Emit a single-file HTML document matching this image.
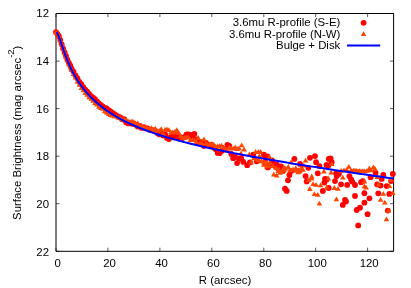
<!DOCTYPE html>
<html><head><meta charset="utf-8"><style>
html,body{margin:0;padding:0;background:#fff;}
svg{display:block;opacity:0.999;will-change:transform;}
text{font-family:"Liberation Sans",sans-serif;font-size:11.4px;fill:#000;}
</style></head><body>
<svg width="411" height="288" viewBox="0 0 411 288">
<rect width="411" height="288" fill="#fff"/>
<path d="M56.0,13.5 H393.6 V251.3 H56.0 Z" fill="none" stroke="#000" stroke-width="1"/><path d="M56.0,251.3 v-3.6 M56.0,13.5 v3.6 M107.9,251.3 v-3.6 M107.9,13.5 v3.6 M159.9,251.3 v-3.6 M159.9,13.5 v3.6 M211.8,251.3 v-3.6 M211.8,13.5 v3.6 M263.8,251.3 v-3.6 M263.8,13.5 v3.6 M315.7,251.3 v-3.6 M315.7,13.5 v3.6 M367.6,251.3 v-3.6 M367.6,13.5 v3.6 M56.0,13.5 h3.6 M393.6,13.5 h-3.6 M56.0,61.1 h3.6 M393.6,61.1 h-3.6 M56.0,108.6 h3.6 M393.6,108.6 h-3.6 M56.0,156.2 h3.6 M393.6,156.2 h-3.6 M56.0,203.7 h3.6 M393.6,203.7 h-3.6 M56.0,251.3 h3.6 M393.6,251.3 h-3.6" fill="none" stroke="#000" stroke-width="1" stroke-opacity="0.65"/>
<g fill="#ff0000"><circle cx="56.0" cy="32.1" r="2.9"/><circle cx="57.4" cy="33.8" r="2.9"/><circle cx="58.9" cy="36.2" r="2.9"/><circle cx="60.3" cy="40.1" r="2.9"/><circle cx="61.7" cy="44.3" r="2.9"/><circle cx="63.1" cy="48.6" r="2.9"/><circle cx="64.6" cy="52.4" r="2.9"/><circle cx="66.0" cy="55.9" r="2.9"/><circle cx="67.4" cy="59.7" r="2.9"/><circle cx="68.9" cy="62.8" r="2.9"/><circle cx="70.3" cy="65.6" r="2.9"/><circle cx="71.6" cy="68.6" r="2.9"/><circle cx="73.5" cy="71.6" r="2.9"/><circle cx="75.5" cy="75.3" r="2.9"/><circle cx="77.4" cy="78.3" r="2.9"/><circle cx="79.4" cy="81.9" r="2.9"/><circle cx="81.3" cy="84.2" r="2.9"/><circle cx="83.3" cy="87.2" r="2.9"/><circle cx="85.2" cy="89.6" r="2.9"/><circle cx="87.2" cy="91.7" r="2.9"/><circle cx="89.1" cy="94.0" r="2.9"/><circle cx="91.1" cy="96.2" r="2.9"/><circle cx="93.0" cy="97.6" r="2.9"/><circle cx="95.0" cy="99.1" r="2.9"/><circle cx="96.9" cy="101.5" r="2.9"/><circle cx="98.8" cy="103.5" r="2.9"/><circle cx="100.8" cy="104.8" r="2.9"/><circle cx="102.7" cy="106.4" r="2.9"/><circle cx="104.7" cy="107.8" r="2.9"/><circle cx="106.6" cy="108.3" r="2.9"/><circle cx="108.6" cy="110.2" r="2.9"/><circle cx="110.5" cy="111.4" r="2.9"/><circle cx="112.5" cy="112.9" r="2.9"/><circle cx="114.4" cy="114.2" r="2.9"/><circle cx="116.4" cy="115.3" r="2.9"/><circle cx="118.3" cy="116.7" r="2.9"/><circle cx="120.3" cy="117.4" r="2.9"/><circle cx="122.2" cy="119.3" r="2.9"/><circle cx="124.2" cy="119.2" r="2.9"/><circle cx="126.1" cy="122.2" r="2.9"/><circle cx="128.1" cy="123.4" r="2.9"/><circle cx="130.0" cy="122.9" r="2.9"/><circle cx="132.0" cy="123.7" r="2.9"/><circle cx="133.9" cy="123.7" r="2.9"/><circle cx="135.9" cy="124.8" r="2.9"/><circle cx="137.8" cy="126.6" r="2.9"/><circle cx="139.8" cy="125.8" r="2.9"/><circle cx="141.7" cy="127.9" r="2.9"/><circle cx="143.6" cy="127.1" r="2.9"/><circle cx="145.6" cy="128.3" r="2.9"/><circle cx="147.5" cy="128.4" r="2.9"/><circle cx="149.5" cy="129.8" r="2.9"/><circle cx="151.4" cy="130.0" r="2.9"/><circle cx="153.4" cy="130.4" r="2.9"/><circle cx="155.3" cy="131.2" r="2.9"/><circle cx="157.3" cy="133.0" r="2.9"/><circle cx="159.2" cy="134.3" r="2.9"/><circle cx="161.2" cy="132.8" r="2.9"/><circle cx="163.1" cy="135.4" r="2.9"/><circle cx="165.1" cy="134.3" r="2.9"/><circle cx="167.0" cy="137.9" r="2.9"/><circle cx="169.0" cy="139.0" r="2.9"/><circle cx="170.9" cy="136.8" r="2.9"/><circle cx="172.9" cy="136.6" r="2.9"/><circle cx="174.8" cy="136.1" r="2.9"/><circle cx="176.8" cy="134.1" r="2.9"/><circle cx="178.7" cy="137.5" r="2.9"/><circle cx="180.7" cy="137.3" r="2.9"/><circle cx="182.6" cy="138.1" r="2.9"/><circle cx="184.5" cy="137.2" r="2.9"/><circle cx="186.5" cy="134.5" r="2.9"/><circle cx="188.4" cy="134.5" r="2.9"/><circle cx="190.4" cy="134.9" r="2.9"/><circle cx="192.3" cy="136.5" r="2.9"/><circle cx="194.3" cy="134.0" r="2.9"/><circle cx="196.2" cy="139.3" r="2.9"/><circle cx="198.2" cy="141.9" r="2.9"/><circle cx="200.1" cy="141.8" r="2.9"/><circle cx="202.1" cy="144.0" r="2.9"/><circle cx="204.0" cy="146.1" r="2.9"/><circle cx="206.0" cy="143.0" r="2.9"/><circle cx="207.9" cy="145.0" r="2.9"/><circle cx="209.9" cy="146.1" r="2.9"/><circle cx="211.8" cy="144.8" r="2.9"/><circle cx="213.8" cy="147.4" r="2.9"/><circle cx="215.7" cy="149.2" r="2.9"/><circle cx="217.7" cy="152.9" r="2.9"/><circle cx="219.6" cy="153.2" r="2.9"/><circle cx="221.6" cy="150.9" r="2.9"/><circle cx="223.5" cy="149.4" r="2.9"/><circle cx="225.4" cy="149.0" r="2.9"/><circle cx="227.4" cy="144.8" r="2.9"/><circle cx="229.3" cy="145.9" r="2.9"/><circle cx="231.3" cy="153.9" r="2.9"/><circle cx="233.2" cy="158.2" r="2.9"/><circle cx="235.2" cy="156.8" r="2.9"/><circle cx="237.1" cy="163.1" r="2.9"/><circle cx="239.1" cy="158.6" r="2.9"/><circle cx="241.0" cy="158.1" r="2.9"/><circle cx="273.0" cy="163.5" r="2.9"/><circle cx="275.0" cy="166.0" r="2.9"/><circle cx="278.0" cy="168.5" r="2.9"/><circle cx="272.0" cy="160.5" r="2.9"/><circle cx="241.1" cy="158.6" r="2.9"/><circle cx="243.3" cy="161.9" r="2.9"/><circle cx="247.2" cy="165.2" r="2.9"/><circle cx="253.3" cy="154.7" r="2.9"/><circle cx="256.7" cy="161.3" r="2.9"/><circle cx="263.9" cy="154.7" r="2.9"/><circle cx="265.6" cy="158.0" r="2.9"/><circle cx="271.7" cy="163.0" r="2.9"/><circle cx="276.7" cy="164.7" r="2.9"/><circle cx="281.1" cy="166.3" r="2.9"/><circle cx="267.8" cy="167.4" r="2.9"/><circle cx="294.4" cy="158.9" r="2.9"/><circle cx="310.0" cy="157.8" r="2.9"/><circle cx="315.0" cy="156.1" r="2.9"/><circle cx="316.1" cy="162.2" r="2.9"/><circle cx="319.4" cy="166.1" r="2.9"/><circle cx="308.3" cy="167.8" r="2.9"/><circle cx="317.8" cy="173.3" r="2.9"/><circle cx="305.6" cy="176.1" r="2.9"/><circle cx="289.4" cy="175.0" r="2.9"/><circle cx="291.1" cy="171.1" r="2.9"/><circle cx="283.3" cy="170.6" r="2.9"/><circle cx="300.0" cy="163.9" r="2.9"/><circle cx="330.6" cy="158.3" r="2.9"/><circle cx="331.7" cy="162.2" r="2.9"/><circle cx="328.3" cy="165.6" r="2.9"/><circle cx="336.1" cy="173.3" r="2.9"/><circle cx="338.9" cy="173.9" r="2.9"/><circle cx="349.4" cy="176.1" r="2.9"/><circle cx="351.1" cy="179.4" r="2.9"/><circle cx="335.0" cy="181.1" r="2.9"/><circle cx="326.7" cy="179.4" r="2.9"/><circle cx="362.8" cy="181.1" r="2.9"/><circle cx="375.6" cy="172.8" r="2.9"/><circle cx="383.3" cy="175.0" r="2.9"/><circle cx="392.8" cy="173.9" r="2.9"/><circle cx="370.6" cy="177.2" r="2.9"/><circle cx="381.7" cy="178.9" r="2.9"/><circle cx="377.2" cy="184.4" r="2.9"/><circle cx="386.7" cy="186.1" r="2.9"/><circle cx="391.1" cy="181.1" r="2.9"/><circle cx="355.0" cy="185.0" r="2.9"/><circle cx="288.0" cy="180.3" r="2.9"/><circle cx="285.0" cy="188.7" r="2.9"/><circle cx="286.7" cy="190.9" r="2.9"/><circle cx="306.7" cy="181.4" r="2.9"/><circle cx="322.8" cy="190.9" r="2.9"/><circle cx="324.4" cy="182.6" r="2.9"/><circle cx="341.1" cy="184.3" r="2.9"/><circle cx="347.2" cy="184.9" r="2.9"/><circle cx="336.7" cy="176.0" r="2.9"/><circle cx="352.2" cy="181.6" r="2.9"/><circle cx="355.0" cy="196.0" r="2.9"/><circle cx="345.0" cy="199.9" r="2.9"/><circle cx="342.8" cy="204.9" r="2.9"/><circle cx="364.4" cy="193.2" r="2.9"/><circle cx="364.4" cy="202.7" r="2.9"/><circle cx="360.0" cy="207.7" r="2.9"/><circle cx="325.0" cy="178.8" r="2.9"/><circle cx="361.1" cy="182.2" r="2.9"/><circle cx="369.4" cy="198.3" r="2.9"/><circle cx="356.7" cy="210.0" r="2.9"/><circle cx="380.6" cy="185.6" r="2.9"/><circle cx="378.3" cy="193.3" r="2.9"/><circle cx="389.4" cy="193.9" r="2.9"/><circle cx="387.8" cy="210.6" r="2.9"/><circle cx="346.0" cy="201.5" r="2.9"/><circle cx="367.6" cy="214.2" r="2.9"/><circle cx="358.2" cy="225.4" r="2.9"/><circle cx="269.4" cy="165.8" r="2.9"/><circle cx="249.9" cy="162.4" r="2.9"/><circle cx="267.4" cy="156.3" r="2.9"/><circle cx="326.5" cy="165.0" r="2.9"/><circle cx="328.7" cy="158.9" r="2.9"/><circle cx="328.7" cy="188.0" r="2.9"/></g><path fill="#ff4500" d="M56.0,29.4 L58.8,34.2 L53.2,34.2Z M57.4,30.4 L60.2,35.2 L54.6,35.2Z M58.9,33.3 L61.6,38.1 L56.1,38.1Z M60.3,37.4 L63.1,42.2 L57.5,42.2Z M61.7,41.0 L64.5,45.8 L58.9,45.8Z M63.1,45.9 L65.9,50.7 L60.4,50.7Z M64.6,50.1 L67.4,54.9 L61.8,54.9Z M66.0,54.2 L68.8,59.0 L63.2,59.0Z M67.4,57.7 L70.2,62.5 L64.6,62.5Z M68.9,61.4 L71.6,66.2 L66.1,66.2Z M70.3,63.9 L73.1,68.7 L67.5,68.7Z M71.6,67.1 L74.4,71.9 L68.8,71.9Z M73.5,71.2 L76.3,76.0 L70.7,76.0Z M75.5,74.8 L78.3,79.6 L72.7,79.6Z M77.4,78.8 L80.2,83.6 L74.6,83.6Z M79.4,82.0 L82.2,86.8 L76.6,86.8Z M81.3,85.1 L84.1,89.9 L78.5,89.9Z M83.3,87.4 L86.1,92.2 L80.5,92.2Z M85.2,90.3 L88.0,95.1 L82.4,95.1Z M87.2,91.9 L90.0,96.7 L84.4,96.7Z M89.1,94.5 L91.9,99.3 L86.3,99.3Z M91.1,95.9 L93.8,100.7 L88.3,100.7Z M93.0,98.0 L95.8,102.8 L90.2,102.8Z M95.0,100.2 L97.7,105.0 L92.2,105.0Z M96.9,101.6 L99.7,106.4 L94.1,106.4Z M98.8,103.9 L101.6,108.7 L96.1,108.7Z M100.8,105.3 L103.6,110.1 L98.0,110.1Z M102.7,106.0 L105.5,110.8 L100.0,110.8Z M104.7,108.3 L107.5,113.2 L101.9,113.2Z M106.6,109.6 L109.4,114.4 L103.9,114.4Z M108.6,111.2 L111.4,116.0 L105.8,116.0Z M110.5,112.1 L113.3,116.9 L107.7,116.9Z M112.5,112.7 L115.3,117.5 L109.7,117.5Z M114.4,113.5 L117.2,118.3 L111.6,118.3Z M116.4,113.7 L119.2,118.5 L113.6,118.5Z M118.3,114.6 L121.1,119.4 L115.5,119.4Z M120.3,115.0 L123.1,119.8 L117.5,119.8Z M122.2,116.5 L125.0,121.3 L119.4,121.3Z M124.2,116.7 L127.0,121.5 L121.4,121.5Z M126.1,116.9 L128.9,121.7 L123.3,121.7Z M128.1,118.4 L130.9,123.2 L125.3,123.2Z M130.0,118.9 L132.8,123.7 L127.2,123.7Z M132.0,118.4 L134.8,123.2 L129.2,123.2Z M133.9,119.3 L136.7,124.1 L131.1,124.1Z M135.9,122.0 L138.6,126.8 L133.1,126.8Z M137.8,120.5 L140.6,125.3 L135.0,125.3Z M139.8,123.1 L142.5,127.9 L137.0,127.9Z M141.7,123.6 L144.5,128.4 L138.9,128.4Z M143.6,124.2 L146.4,129.0 L140.9,129.0Z M145.6,124.5 L148.4,129.3 L142.8,129.3Z M147.5,125.7 L150.3,130.5 L144.8,130.5Z M149.5,125.9 L152.3,130.7 L146.7,130.7Z M151.4,125.2 L154.2,130.0 L148.6,130.0Z M153.4,128.1 L156.2,132.9 L150.6,132.9Z M155.3,125.7 L158.1,130.5 L152.5,130.5Z M157.3,128.2 L160.1,133.0 L154.5,133.0Z M159.2,128.0 L162.0,132.8 L156.4,132.8Z M161.2,126.2 L164.0,131.1 L158.4,131.1Z M163.1,131.0 L165.9,135.8 L160.3,135.8Z M165.1,126.9 L167.9,131.7 L162.3,131.7Z M167.0,126.5 L169.8,131.3 L164.2,131.3Z M169.0,127.2 L171.8,132.0 L166.2,132.0Z M170.9,129.5 L173.7,134.3 L168.1,134.3Z M172.9,129.6 L175.7,134.4 L170.1,134.4Z M174.8,129.1 L177.6,133.9 L172.0,133.9Z M176.8,127.2 L179.5,132.0 L174.0,132.0Z M178.7,130.0 L181.5,134.8 L175.9,134.8Z M180.7,133.3 L183.4,138.1 L177.9,138.1Z M182.6,135.2 L185.4,140.0 L179.8,140.0Z M184.5,135.0 L187.3,139.8 L181.8,139.8Z M186.5,134.6 L189.3,139.4 L183.7,139.4Z M188.4,134.6 L191.2,139.4 L185.7,139.4Z M190.4,137.2 L193.2,142.0 L187.6,142.0Z M192.3,137.2 L195.1,142.0 L189.5,142.0Z M194.3,137.2 L197.1,142.0 L191.5,142.0Z M196.2,139.0 L199.0,143.8 L193.4,143.8Z M198.2,135.0 L201.0,139.9 L195.4,139.9Z M200.1,140.1 L202.9,144.9 L197.3,144.9Z M202.1,141.0 L204.9,145.8 L199.3,145.8Z M204.0,136.5 L206.8,141.3 L201.2,141.3Z M206.0,140.5 L208.8,145.3 L203.2,145.3Z M207.9,141.9 L210.7,146.7 L205.1,146.7Z M209.9,141.5 L212.7,146.3 L207.1,146.3Z M211.8,141.1 L214.6,145.9 L209.0,145.9Z M213.8,142.2 L216.6,147.0 L211.0,147.0Z M215.7,143.8 L218.5,148.6 L212.9,148.6Z M217.7,143.4 L220.4,148.2 L214.9,148.2Z M219.6,143.2 L222.4,148.0 L216.8,148.0Z M221.6,142.8 L224.3,147.6 L218.8,147.6Z M223.5,144.5 L226.3,149.3 L220.7,149.3Z M225.4,145.8 L228.2,150.6 L222.7,150.6Z M227.4,147.6 L230.2,152.4 L224.6,152.4Z M229.3,144.4 L232.1,149.2 L226.6,149.2Z M231.3,145.8 L234.1,150.6 L228.5,150.6Z M233.2,145.8 L236.0,150.6 L230.5,150.6Z M235.2,144.4 L238.0,149.2 L232.4,149.2Z M237.1,146.2 L239.9,151.0 L234.3,151.0Z M239.1,145.5 L241.9,150.3 L236.3,150.3Z M241.0,150.7 L243.8,155.5 L238.2,155.5Z M254.0,155.4 L256.8,160.2 L251.2,160.2Z M256.5,156.9 L259.3,161.7 L253.7,161.7Z M259.0,157.4 L261.8,162.2 L256.2,162.2Z M261.5,158.4 L264.3,163.2 L258.7,163.2Z M264.0,157.9 L266.8,162.7 L261.2,162.7Z M267.0,159.4 L269.8,164.2 L264.2,164.2Z M270.0,159.9 L272.8,164.7 L267.2,164.7Z M273.0,162.9 L275.8,167.7 L270.2,167.7Z M276.0,164.9 L278.8,169.7 L273.2,169.7Z M279.0,166.4 L281.8,171.2 L276.2,171.2Z M284.0,166.9 L286.8,171.7 L281.2,171.7Z M290.0,167.4 L292.8,172.2 L287.2,172.2Z M293.0,166.4 L295.8,171.2 L290.2,171.2Z M296.0,167.9 L298.8,172.7 L293.2,172.7Z M300.0,168.4 L302.8,173.2 L297.2,173.2Z M303.0,166.9 L305.8,171.7 L300.2,171.7Z M351.0,167.4 L353.8,172.2 L348.2,172.2Z M354.5,167.9 L357.3,172.7 L351.7,172.7Z M358.0,168.4 L360.8,173.2 L355.2,173.2Z M361.0,168.4 L363.8,173.2 L358.2,173.2Z M364.5,168.4 L367.3,173.2 L361.7,173.2Z M367.0,167.9 L369.8,172.7 L364.2,172.7Z M371.0,167.4 L373.8,172.2 L368.2,172.2Z M344.0,167.4 L346.8,172.2 L341.2,172.2Z M241.7,142.5 L244.5,147.3 L238.9,147.3Z M244.1,146.6 L246.9,151.4 L241.3,151.4Z M255.6,149.1 L258.4,153.9 L252.8,153.9Z M258.3,149.1 L261.1,153.9 L255.5,153.9Z M260.6,149.1 L263.4,153.9 L257.8,153.9Z M249.4,151.6 L252.2,156.4 L246.6,156.4Z M269.4,154.1 L272.2,158.9 L266.6,158.9Z M251.1,159.6 L253.9,164.4 L248.3,164.4Z M259.4,153.2 L262.2,158.0 L256.6,158.0Z M263.9,161.9 L266.7,166.7 L261.1,166.7Z M266.7,163.8 L269.5,168.6 L263.9,168.6Z M269.4,162.9 L272.2,167.7 L266.6,167.7Z M283.9,164.6 L286.7,169.4 L281.1,169.4Z M305.6,157.8 L308.4,162.6 L302.8,162.6Z M291.1,159.5 L293.9,164.3 L288.3,164.3Z M285.6,165.8 L288.4,170.6 L282.8,170.6Z M288.3,164.1 L291.1,168.9 L285.5,168.9Z M282.2,169.1 L285.0,173.9 L279.4,173.9Z M298.3,167.2 L301.1,172.0 L295.5,172.0Z M301.1,165.0 L303.9,169.8 L298.3,169.8Z M303.9,162.8 L306.7,167.6 L301.1,167.6Z M323.9,168.6 L326.7,173.4 L321.1,173.4Z M311.7,173.6 L314.5,178.4 L308.9,178.4Z M331.9,161.3 L334.7,166.1 L329.1,166.1Z M348.9,163.9 L351.7,168.7 L346.1,168.7Z M353.3,167.8 L356.1,172.6 L350.5,172.6Z M356.1,167.8 L358.9,172.6 L353.3,172.6Z M359.4,168.3 L362.2,173.1 L356.6,173.1Z M362.8,168.3 L365.6,173.1 L360.0,173.1Z M346.7,166.7 L349.5,171.5 L343.9,171.5Z M331.1,169.7 L333.9,174.5 L328.3,174.5Z M342.8,174.7 L345.6,179.5 L340.0,179.5Z M328.3,175.6 L331.1,180.4 L325.5,180.4Z M341.1,168.0 L343.9,172.8 L338.3,172.8Z M369.4,165.6 L372.2,170.4 L366.6,170.4Z M373.3,164.5 L376.1,169.3 L370.5,169.3Z M375.0,166.1 L377.8,170.9 L372.2,170.9Z M368.3,167.5 L371.1,172.3 L365.5,172.3Z M364.4,178.6 L367.2,183.4 L361.6,183.4Z M378.3,181.7 L381.1,186.5 L375.5,186.5Z M377.2,174.1 L380.0,178.9 L374.4,178.9Z M390.6,176.9 L393.4,181.7 L387.8,181.7Z M366.1,184.7 L368.9,189.5 L363.3,189.5Z M389.4,183.3 L392.2,188.1 L386.6,188.1Z M298.3,169.5 L301.1,174.3 L295.5,174.3Z M311.7,175.8 L314.5,180.6 L308.9,180.6Z M308.7,177.2 L311.5,182.0 L305.9,182.0Z M313.1,181.3 L315.9,186.1 L310.3,186.1Z M316.1,181.9 L318.9,186.7 L313.3,186.7Z M320.6,182.5 L323.4,187.3 L317.8,187.3Z M309.8,186.1 L312.6,190.9 L307.0,190.9Z M314.4,191.3 L317.2,196.1 L311.6,196.1Z M317.8,191.9 L320.6,196.7 L315.0,196.7Z M319.4,200.8 L322.2,205.6 L316.6,205.6Z M280.0,169.9 L282.8,174.7 L277.2,174.7Z M326.7,184.6 L329.5,189.4 L323.9,189.4Z M334.4,185.1 L337.2,189.9 L331.6,189.9Z M338.0,185.9 L340.8,190.7 L335.2,190.7Z M336.4,196.5 L339.2,201.3 L333.6,201.3Z M364.4,183.5 L367.2,188.3 L361.6,188.3Z M383.3,191.0 L386.1,195.8 L380.5,195.8Z M380.6,196.9 L383.4,201.7 L377.8,201.7Z M384.8,199.7 L387.6,204.5 L382.0,204.5Z M392.8,190.2 L395.6,195.0 L390.0,195.0Z M388.3,208.0 L391.1,212.8 L385.5,212.8Z M386.5,216.4 L389.3,221.2 L383.7,221.2Z M263.9,159.9 L266.7,164.7 L261.1,164.7Z M273.9,171.6 L276.7,176.4 L271.1,176.4Z M276.7,172.7 L279.5,177.5 L273.9,177.5Z M278.3,168.2 L281.1,173.0 L275.5,173.0Z M295.8,165.2 L298.6,170.0 L293.0,170.0Z"/><path d="M56.39,32.33 L56.71,32.63 L57.04,33.01 L57.36,33.47 L57.68,34.01 L58.01,34.62 L58.33,35.29 L58.66,36.03 L58.98,36.81 L59.30,37.64 L59.63,38.50 L59.95,39.40 L60.28,40.32 L60.60,41.25 L60.92,42.20 L61.25,43.16 L61.57,44.13 L61.89,45.09 L62.22,46.06 L62.54,47.03 L62.87,47.98 L63.19,48.94 L63.51,49.88 L63.84,50.82 L64.16,51.74 L64.48,52.66 L64.81,53.56 L65.13,54.45 L65.46,55.33 L65.78,56.20 L66.10,57.05 L66.43,57.90 L66.75,58.73 L67.07,59.54 L67.40,60.35 L67.72,61.14 L68.05,61.92 L68.37,62.69 L68.69,63.45 L69.02,64.19 L69.34,64.93 L69.67,65.65 L69.99,66.36 L70.31,67.06 L70.64,67.76 L70.96,68.44 L71.28,69.11 L71.61,69.77 L71.93,70.42 L72.26,71.06 L72.58,71.69 L72.90,72.32 L73.23,72.93 L73.55,73.54 L73.87,74.13 L74.20,74.72 L74.52,75.30 L74.85,75.88 L75.17,76.44 L75.49,77.00 L75.82,77.55 L76.14,78.10 L76.46,78.63 L76.79,79.16 L77.11,79.69 L77.44,80.20 L77.76,80.71 L78.08,81.21 L78.41,81.71 L78.73,82.20 L79.06,82.69 L79.38,83.17 L79.70,83.64 L80.03,84.11 L80.35,84.57 L80.67,85.03 L81.00,85.48 L81.32,85.93 L81.65,86.37 L81.97,86.81 L83.54,88.86 L85.10,90.80 L86.67,92.65 L88.23,94.41 L89.80,96.10 L91.37,97.70 L92.93,99.25 L94.50,100.72 L96.06,102.14 L97.63,103.51 L99.20,104.82 L100.76,106.09 L102.33,107.31 L103.89,108.49 L105.46,109.62 L107.02,110.73 L108.59,111.79 L110.16,112.83 L111.72,113.83 L113.29,114.80 L114.85,115.74 L116.42,116.66 L117.99,117.55 L119.55,118.42 L121.12,119.26 L122.68,120.09 L124.25,120.89 L125.82,121.67 L127.38,122.43 L128.95,123.18 L130.51,123.91 L132.08,124.62 L133.65,125.31 L135.21,125.99 L136.78,126.66 L138.34,127.31 L139.91,127.95 L141.48,128.57 L143.04,129.18 L144.61,129.79 L146.17,130.37 L147.74,130.95 L149.31,131.52 L150.87,132.08 L152.44,132.63 L154.00,133.16 L155.57,133.69 L157.14,134.21 L158.70,134.73 L160.27,135.23 L161.83,135.73 L163.40,136.22 L164.97,136.70 L166.53,137.17 L168.10,137.64 L169.66,138.10 L171.23,138.55 L172.80,139.00 L174.36,139.44 L175.93,139.88 L177.49,140.31 L179.06,140.73 L180.63,141.15 L182.19,141.57 L183.76,141.98 L185.32,142.38 L186.89,142.78 L188.46,143.18 L190.02,143.57 L191.59,143.95 L193.15,144.34 L194.72,144.72 L196.29,145.09 L197.85,145.46 L199.42,145.83 L200.98,146.19 L202.55,146.55 L204.12,146.91 L205.68,147.26 L207.25,147.61 L208.81,147.96 L210.38,148.30 L211.95,148.64 L213.51,148.98 L215.08,149.32 L216.64,149.65 L218.21,149.98 L219.78,150.31 L221.34,150.63 L222.91,150.96 L224.47,151.27 L226.04,151.59 L227.61,151.91 L229.17,152.22 L230.74,152.53 L232.30,152.84 L233.87,153.15 L235.44,153.45 L237.00,153.75 L238.57,154.06 L240.13,154.35 L241.70,154.65 L243.27,154.95 L244.83,155.24 L246.40,155.53 L247.96,155.82 L249.53,156.11 L251.10,156.40 L252.66,156.68 L254.23,156.97 L255.79,157.25 L257.36,157.53 L258.93,157.81 L260.49,158.09 L262.06,158.36 L263.62,158.64 L265.19,158.91 L266.76,159.18 L268.32,159.46 L269.89,159.73 L271.45,159.99 L273.02,160.26 L274.59,160.53 L276.15,160.79 L277.72,161.06 L279.28,161.32 L280.85,161.58 L282.42,161.84 L283.98,162.10 L285.55,162.36 L287.11,162.62 L288.68,162.88 L290.25,163.13 L291.81,163.39 L293.38,163.64 L294.94,163.90 L296.51,164.15 L298.07,164.40 L299.64,164.65 L301.21,164.90 L302.77,165.15 L304.34,165.40 L305.90,165.65 L307.47,165.89 L309.04,166.14 L310.60,166.38 L312.17,166.63 L313.73,166.87 L315.30,167.11 L316.87,167.36 L318.43,167.60 L320.00,167.84 L321.56,168.08 L323.13,168.32 L324.70,168.56 L326.26,168.80 L327.83,169.03 L329.39,169.27 L330.96,169.51 L332.53,169.74 L334.09,169.98 L335.66,170.21 L337.22,170.45 L338.79,170.68 L340.36,170.91 L341.92,171.15 L343.49,171.38 L345.05,171.61 L346.62,171.84 L348.19,172.07 L349.75,172.30 L351.32,172.53 L352.88,172.76 L354.45,172.99 L356.02,173.21 L357.58,173.44 L359.15,173.67 L360.71,173.90 L362.28,174.12 L363.85,174.35 L365.41,174.57 L366.98,174.80 L368.54,175.02 L370.11,175.25 L371.68,175.47 L373.24,175.69 L374.81,175.92 L376.37,176.14 L377.94,176.36 L379.51,176.58 L381.07,176.80 L382.64,177.02 L384.20,177.24 L385.77,177.46 L387.34,177.68 L388.90,177.90 L390.47,178.12 L392.03,178.34 L393.60,178.56" fill="none" stroke="#0000ff" stroke-width="2" stroke-linecap="butt" stroke-linejoin="round"/>
<circle cx="363.6" cy="22.8" r="2.9" fill="#ff0000"/><path fill="#ff4500" d="M363.6,31.2 L366.4,36.0 L360.8,36.0Z"/><path d="M347,45.6 H380.2" stroke="#0000ff" stroke-width="2"/>
<text x="57.6" y="266.6" text-anchor="middle">0</text><text x="109.5" y="266.6" text-anchor="middle">20</text><text x="161.5" y="266.6" text-anchor="middle">40</text><text x="213.4" y="266.6" text-anchor="middle">60</text><text x="265.4" y="266.6" text-anchor="middle">80</text><text x="317.3" y="266.6" text-anchor="middle">100</text><text x="369.2" y="266.6" text-anchor="middle">120</text><text x="49" y="17.1" text-anchor="end">12</text><text x="49" y="64.8" text-anchor="end">14</text><text x="49" y="112.5" text-anchor="end">16</text><text x="49" y="160.3" text-anchor="end">18</text><text x="49" y="208.0" text-anchor="end">20</text><text x="49" y="255.7" text-anchor="end">22</text><text x="225" y="283.5" text-anchor="middle">R (arcsec)</text><text transform="translate(20.6,132.8) rotate(-90)" text-anchor="middle">Surface Brightness (mag arcsec<tspan dy="-6.5" font-size="9.4">-2</tspan><tspan dy="6.5">)</tspan></text><text x="340.3" y="26.2" text-anchor="end">3.6mu R-profile (S-E)</text><text x="340.3" y="37.7" text-anchor="end">3.6mu R-profile (N-W)</text><text x="340.3" y="49.2" text-anchor="end">Bulge + Disk</text>
</svg>
</body></html>
